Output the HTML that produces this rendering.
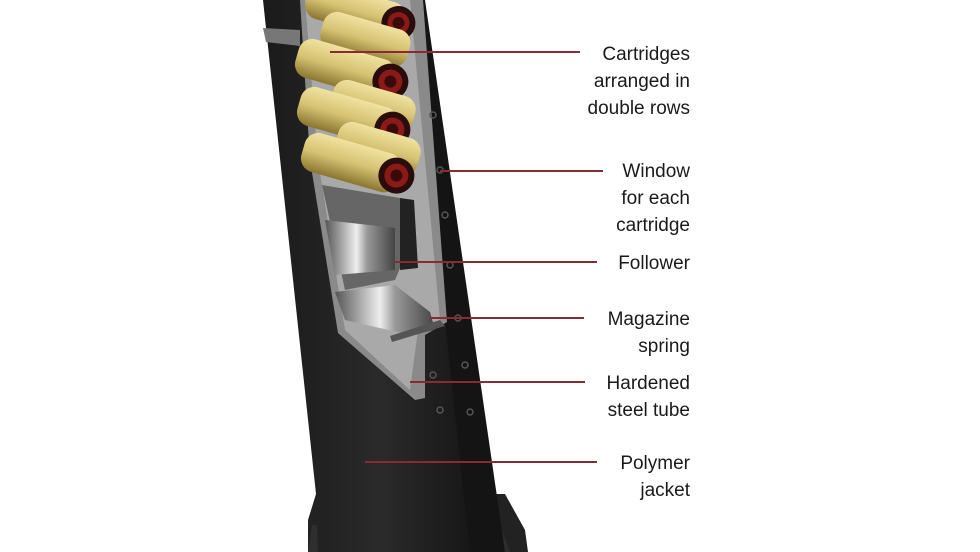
<!DOCTYPE html>
<html><head><style>
html,body{margin:0;padding:0;background:#fff;}
svg{display:block;}
text{font-family:"Liberation Sans",Arial,sans-serif;font-size:19px;fill:#1a1a1a;}
</style></head><body>
<svg width="980" height="552" viewBox="0 0 980 552" xmlns="http://www.w3.org/2000/svg">
<defs>
<linearGradient id="brass" x1="0" y1="0" x2="0" y2="1">
<stop offset="0" stop-color="#f0e2a0"/><stop offset="0.5" stop-color="#d6c272"/><stop offset="1" stop-color="#8a7530"/>
</linearGradient>
<linearGradient id="body" x1="0" y1="0" x2="1" y2="0">
<stop offset="0" stop-color="#1a1a1a"/><stop offset="0.5" stop-color="#2a2a2a"/><stop offset="1" stop-color="#111"/>
</linearGradient>
<linearGradient id="steel" x1="0" y1="0" x2="1" y2="0">
<stop offset="0" stop-color="#555"/><stop offset="0.45" stop-color="#eee"/><stop offset="0.6" stop-color="#999"/><stop offset="1" stop-color="#444"/>
</linearGradient>
</defs>
<rect width="980" height="552" fill="#fff"/>
<!-- base plate -->
<polygon points="316,494 505,494 525,530 528,552 308,552 308,520" fill="#222"/>
<polygon points="312,525 500,525 510,552 308,552" fill="#2e2e2e"/>
<!-- body -->
<polygon points="263,0 420,0 500,552 318,552 316,494" fill="url(#body)"/>
<polygon points="410,0 425,0 505,552 470,552" fill="#141414"/>
<polygon points="263,28 300,30 300,46 266,42" fill="#777"/>
<!-- steel tube / cutout -->
<polygon points="300,0 423,0 447,322 425,335 425,398 415,400 338,333 310,160" fill="#8a8a8a"/>
<polygon points="305,0 410,0 440,320 418,330 410,390 345,330 318,160" fill="#a9a9a9"/>
<!-- follower/spring hollow -->
<polygon points="322,185 400,198 400,230 412,260 400,268 395,280 345,290" fill="#666"/>
<polygon points="325,220 395,228 395,270 335,275" fill="url(#steel)"/>
<polygon points="335,292 395,285 430,312 435,330 410,335 345,320" fill="url(#steel)"/>
<polygon points="400,198 414,200 418,268 400,270" fill="#222"/>
<polygon points="390,336 440,320 445,326 392,342" fill="#555"/>
<!-- cartridges -->
<g>
<g transform="translate(360,12) rotate(16)"><rect x="-55" y="-19" width="100" height="38" rx="14" fill="url(#brass)"/><circle cx="40" cy="0" r="17" fill="#2a0c0c"/><circle cx="40" cy="0" r="11" fill="#8a1a18"/><circle cx="40" cy="0" r="6" fill="#3a0a0a"/></g>
<g transform="translate(375,42) rotate(16)"><rect x="-55" y="-19" width="90" height="38" rx="14" fill="url(#brass)"/></g>
<g transform="translate(350,70) rotate(16)"><rect x="-55" y="-20" width="100" height="40" rx="14" fill="url(#brass)"/><circle cx="42" cy="0" r="18" fill="#2a0c0c"/><circle cx="42" cy="0" r="12" fill="#8a1a18"/><circle cx="42" cy="0" r="6" fill="#3a0a0a"/></g>
<g transform="translate(385,110) rotate(16)"><rect x="-55" y="-19" width="85" height="38" rx="14" fill="url(#brass)"/></g>
<g transform="translate(352,118) rotate(16)"><rect x="-55" y="-20" width="100" height="40" rx="14" fill="url(#brass)"/><circle cx="42" cy="0" r="18" fill="#2a0c0c"/><circle cx="42" cy="0" r="12" fill="#8a1a18"/><circle cx="42" cy="0" r="6" fill="#3a0a0a"/></g>
<g transform="translate(390,152) rotate(16)"><rect x="-55" y="-19" width="85" height="38" rx="14" fill="url(#brass)"/></g>
<g transform="translate(356,164) rotate(16)"><rect x="-55" y="-20" width="100" height="40" rx="14" fill="url(#brass)"/><circle cx="42" cy="0" r="18" fill="#2a0c0c"/><circle cx="42" cy="0" r="12" fill="#8a1a18"/><circle cx="42" cy="0" r="6" fill="#3a0a0a"/></g>
</g>
<!-- holes -->
<g fill="none" stroke="#555" stroke-width="1.5">
<circle cx="433" cy="115" r="3"/><circle cx="440" cy="170" r="3"/><circle cx="445" cy="215" r="3"/><circle cx="450" cy="265" r="3"/><circle cx="458" cy="318" r="3"/>
<circle cx="433" cy="375" r="3"/><circle cx="465" cy="365" r="3"/><circle cx="440" cy="410" r="3"/><circle cx="470" cy="412" r="3"/>
</g>
<!-- leader lines -->
<g stroke="#8a2a35" stroke-width="2">
<line x1="330" y1="52" x2="580" y2="52"/>
<line x1="440" y1="171" x2="603" y2="171"/>
<line x1="395" y1="262" x2="597" y2="262"/>
<line x1="430" y1="318" x2="584" y2="318"/>
<line x1="410" y1="382" x2="585" y2="382"/>
<line x1="365" y1="462" x2="597" y2="462"/>
</g>
<g text-anchor="end">
<text x="690" y="60">Cartridges</text>
<text x="690" y="87">arranged in</text>
<text x="690" y="114">double rows</text>
<text x="690" y="177">Window</text>
<text x="690" y="204">for each</text>
<text x="690" y="231">cartridge</text>
<text x="690" y="269">Follower</text>
<text x="690" y="325">Magazine</text>
<text x="690" y="352">spring</text>
<text x="690" y="389">Hardened</text>
<text x="690" y="416">steel tube</text>
<text x="690" y="469">Polymer</text>
<text x="690" y="496">jacket</text>
</g>
</svg>
</body></html>
